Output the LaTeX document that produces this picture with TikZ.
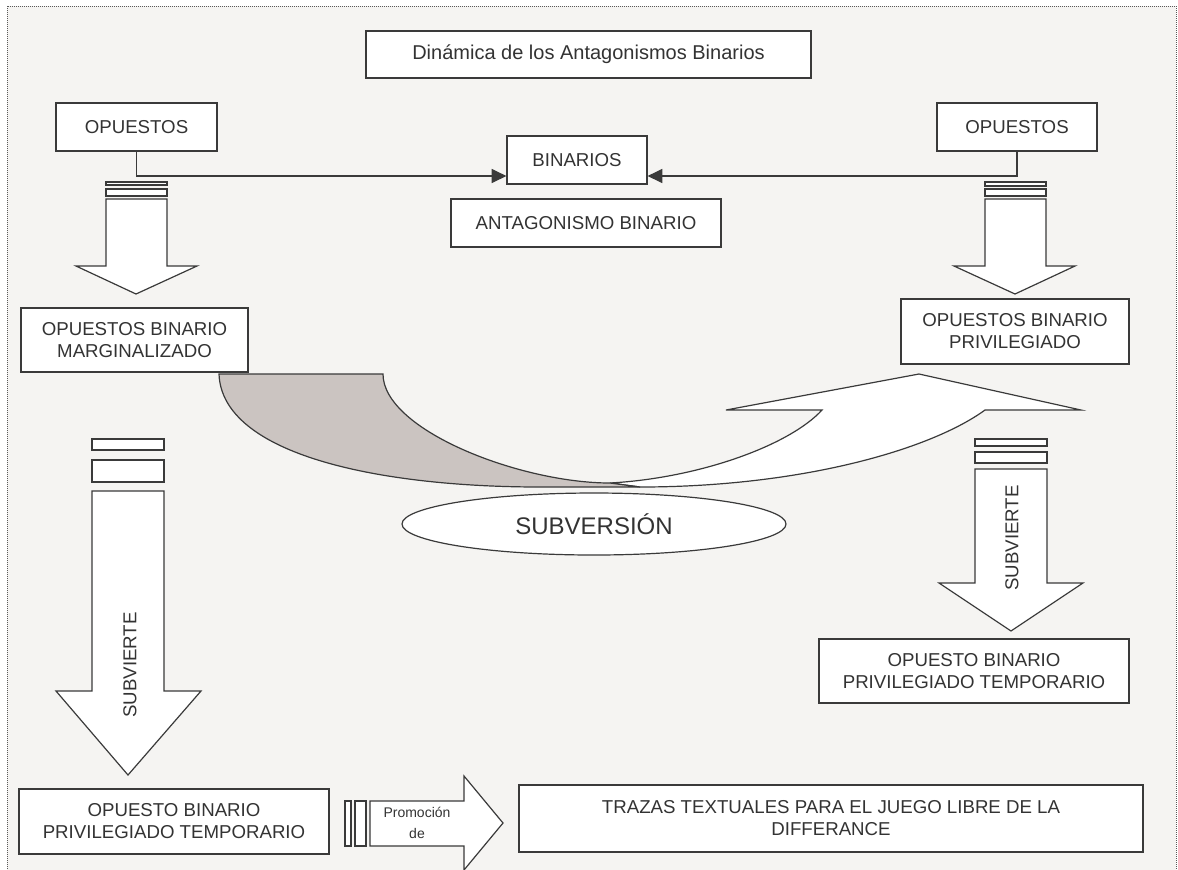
\documentclass[tikz,border=0pt]{standalone}
\usepackage{fontspec}
\setmainfont{Liberation Sans}
\usetikzlibrary{arrows.meta,shapes.geometric}
\definecolor{bg}{HTML}{F5F4F2}
\definecolor{ln}{HTML}{3A3A3A}
\definecolor{tx}{HTML}{333333}
\definecolor{shade}{HTML}{CBC4C1}
\begin{document}
\begin{tikzpicture}[x=0.75pt,y=-0.75pt,
  box/.style={draw=ln, fill=white, line width=0.9pt, text=tx, align=center,
    font=\fontsize{14}{16.5}\selectfont, inner sep=0pt},
  blk/.style={draw=ln, fill=white, line width=0.9pt, line join=miter},
  conn/.style={draw=ln, line width=0.9pt, -{Triangle[length=11pt,width=10.5pt]}},
  lbl/.style={text=tx, font=\fontsize{14}{16.5}\selectfont, inner sep=0pt},
  small/.style={text=tx, font=\fontsize{10.5}{14}\selectfont, align=center, inner sep=0pt}]
\useasboundingbox (0,0) rectangle (1178,869);
\fill[bg] (7,6) rectangle (1176,875);
\draw[gray!70!black, line width=0.6pt, dash pattern=on 0.6pt off 0.9pt] (7,6) rectangle (1176,875);

% boxes
\node[box, minimum width=333.75pt, minimum height=35.25pt, font=\fontsize{15}{17}\selectfont] (title) at (588.5,54.5) {Dinámica de los Antagonismos Binarios};
\node[box, minimum width=120.75pt, minimum height=36pt] (opL) at (136.5,127) {OPUESTOS};
\node[box, minimum width=120pt, minimum height=36pt] (opR) at (1017,127) {OPUESTOS};
\node[box, minimum width=105pt, minimum height=36pt] (bin) at (577,160) {BINARIOS};
\node[box, minimum width=202.5pt, minimum height=36pt] (ant) at (586,223) {ANTAGONISMO BINARIO};
\node[box, minimum width=170.25pt, minimum height=48pt] (marg) at (134.5,340) {OPUESTOS BINARIO\\MARGINALIZADO};
\node[box, minimum width=171pt, minimum height=48.75pt] (priv) at (1015,331.5) {OPUESTOS BINARIO\\PRIVILEGIADO};
\node[box, minimum width=232.5pt, minimum height=48pt] (tempR) at (974,671) {OPUESTO BINARIO\\PRIVILEGIADO TEMPORARIO};
\node[box, minimum width=232.5pt, minimum height=48.75pt] (tempL) at (174,821.5) {OPUESTO BINARIO\\PRIVILEGIADO TEMPORARIO};
\node[box, minimum width=468pt, minimum height=50.25pt] (trazas) at (831,818.5) {TRAZAS TEXTUALES PARA EL JUEGO LIBRE DE LA\\DIFFERANCE};

% connectors
\draw[conn] (opL.south) |- ([yshift=-12pt]bin.west);
\draw[conn] (opR.south) |- ([yshift=-12pt]bin.east);

% top-left block arrow
\draw[blk] (106,182) rectangle (167,185);
\draw[blk] (106,189) rectangle (167,196);
\draw[blk] (106,199) -- (167,199) -- (167,266) -- (197,266) -- (136,294) -- (76,266) -- (106,266) -- cycle;

% top-right block arrow
\draw[blk] (985,182) rectangle (1046,186);
\draw[blk] (985,189) rectangle (1046,196);
\draw[blk] (985,199) -- (1046,199) -- (1046,266) -- (1075,266) -- (1015,294) -- (954,266) -- (985,266) -- cycle;

% lower-left block arrow
\draw[blk] (92,439) rectangle (164,450);
\draw[blk] (92,460) rectangle (164,482);
\draw[blk] (92,491) -- (164,491) -- (164,691) -- (201,691) -- (128,775) -- (56,691) -- (92,691) -- cycle;
\node[lbl, rotate=90] (sv1) at (130,665) {SUBVIERTE};

% lower-right block arrow
\draw[blk] (975,439) rectangle (1047,446);
\draw[blk] (975,452) rectangle (1047,463);
\draw[blk] (975,469) -- (1047,469) -- (1047,583) -- (1083,583) -- (1011,631) -- (939,583) -- (975,583) -- cycle;
\node[lbl, rotate=90] (sv2) at (1012,538) {SUBVIERTE};

% promocion arrow
\draw[blk] (345,801) rectangle (351,846);
\draw[blk] (355,801) rectangle (366,846);
\draw[blk] (370,801) -- (464,801) -- (464,776) -- (503,823) -- (464,870) -- (464,846) -- (370,846) -- cycle;
\node[small] (prom) at (417,823) {Promoción\\[2pt]de};

% curved U-turn arrow
\draw[blk] (610,483) .. controls (700,478) and (790,445) .. (822,410) -- (726,410) -- (919,374) -- (1081,410) -- (985,410)
  .. controls (930,450) and (800,487) .. (640,487) -- cycle;
\draw[blk, fill=shade] (219,374) -- (383,374) .. controls (383,430) and (520,483) .. (610,483) -- (640,487) -- (540,487)
  .. controls (380,487) and (222,455) .. (219,374) -- cycle;

% subversion ellipse
\node[ellipse, draw=ln, fill=white, line width=0.9pt, minimum width=288pt, minimum height=46.5pt, inner sep=0pt,
  text=tx, font=\fontsize{18}{20}\selectfont] (sub) at (594,524) {SUBVERSIÓN};
\end{tikzpicture}
\end{document}
